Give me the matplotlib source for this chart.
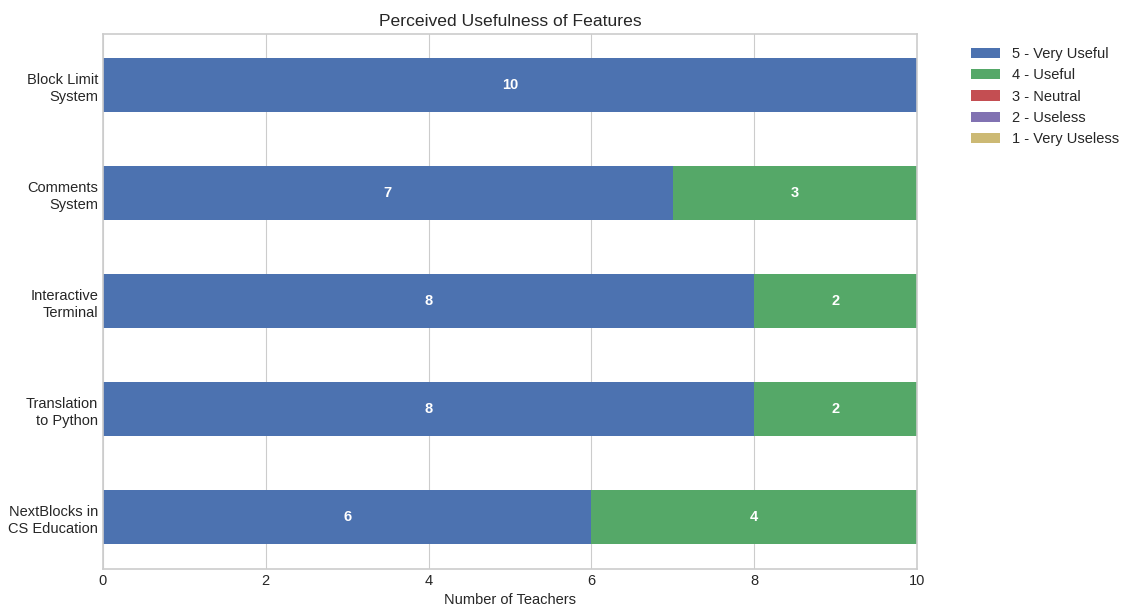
import matplotlib
matplotlib.use("Agg")
import matplotlib.pyplot as plt
import numpy as np

plt.style.use("seaborn-v0_8-whitegrid")
plt.rcParams["font.family"] = ["Liberation Sans", "DejaVu Sans"]

features = ["Block Limit\nSystem", "Comments\nSystem", "Interactive\nTerminal",
            "Translation\nto Python", "NextBlocks in\nCS Education"]
levels = ["5 - Very Useful", "4 - Useful", "3 - Neutral", "2 - Useless", "1 - Very Useless"]
very_useful = [10, 7, 8, 8, 6]
useful = [0, 3, 2, 2, 4]
neutral = [0, 0, 0, 0, 0]
useless = [0, 0, 0, 0, 0]
very_useless = [0, 0, 0, 0, 0]
series = [very_useful, useful, neutral, useless, very_useless]
colors = ["#4C72B0", "#55A868", "#C44E52", "#8172B2", "#CCB974"]

fig = plt.figure(figsize=(11.23, 6.10), dpi=100)
ax = fig.add_axes([0.0917, 0.0672, 0.7249, 0.8771])

fs = 10.5
y = np.arange(len(features))
left = np.zeros(len(features))
for name, vals, c in zip(levels, series, colors):
    vals = np.array(vals, dtype=float)
    bars = ax.barh(y, vals, left=left, height=0.5, color=c, label=name)
    for b, v in zip(bars, vals):
        if v > 0:
            ax.text(b.get_x() + b.get_width() / 2, b.get_y() + b.get_height() / 2,
                    f"{int(v)}", ha="center", va="center", color="white",
                    fontweight="bold", fontsize=fs)
    left += vals

ax.set_yticks(y)
ax.set_yticklabels(features, fontsize=fs, linespacing=1.25)
ax.set_ylim(len(features) - 1 + 0.477, -0.477)
ax.set_xlim(0, 10)
ax.set_xticks([0, 2, 4, 6, 8, 10])
ax.tick_params(axis="x", labelsize=fs)
ax.grid(axis="y", visible=False)
ax.set_xlabel("Number of Teachers", fontsize=fs)
ax.set_title("Perceived Usefulness of Features", fontsize=12.6)
for s in ax.spines.values():
    s.set_visible(True)
    s.set_color("#cccccc")
    s.set_linewidth(1.2)

ax.legend(loc="upper left", bbox_to_anchor=(1.05, 1.0), fontsize=fs, frameon=False)

fig.savefig("out.png", dpi=100)
